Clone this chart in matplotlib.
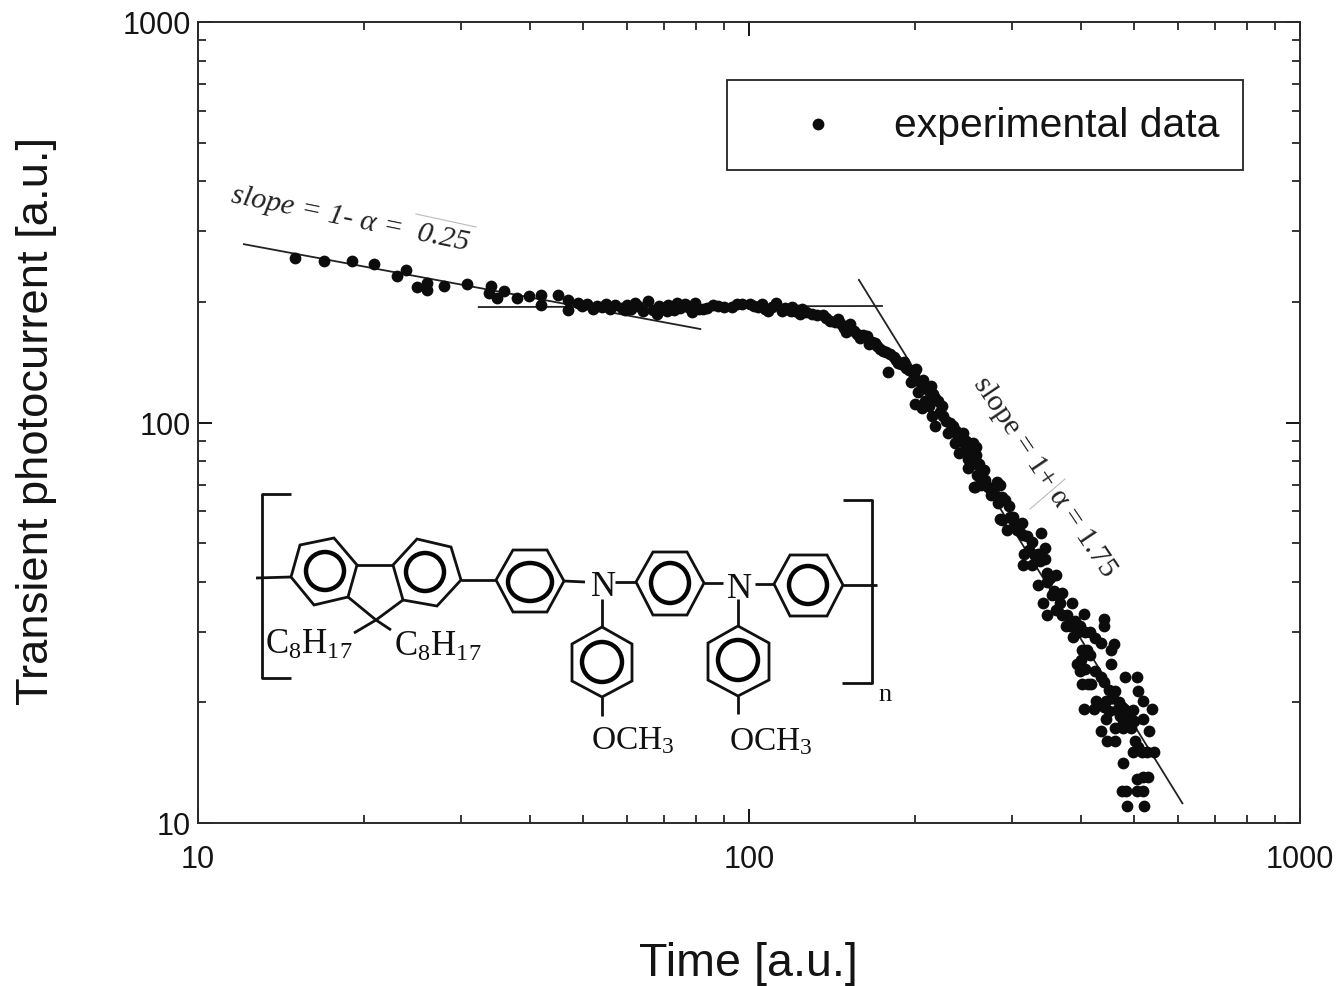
import numpy as np
import matplotlib
matplotlib.use("Agg")
import matplotlib.pyplot as plt
from matplotlib.patches import Ellipse, Polygon, Rectangle
from matplotlib.ticker import FixedLocator, LogLocator, NullFormatter, FuncFormatter

plt.rcParams['font.family'] = ['Liberation Sans', 'DejaVu Sans']
plt.rcParams['mathtext.fontset'] = 'custom'
plt.rcParams['mathtext.rm'] = 'Liberation Serif'

W, H = 1336, 987
INK = '#141414'

time_data = [
    15.0, 16.9, 19.0, 20.9, 23.0, 23.9, 25.0, 26.0, 26.0, 27.9, 30.8, 34.0, 33.7, 34.9, 35.9, 37.9,
    39.9, 41.9, 41.9, 45.0, 46.9, 46.9, 48.9, 50.8, 53.0, 55.0, 57.1, 58.8, 60.0, 62.1, 64.2, 65.6,
    68.1, 68.6, 71.0, 71.3, 74.0, 76.5, 78.8, 79.8, 82.5, 86.0, 90.0, 93.1, 95.0, 97.0, 100.5, 102.0,
    103.8, 105.6, 108.2, 110.0, 112.0, 114.8, 117.0, 119.0, 119.8, 122.0, 125.0,
    130, 136, 140, 145, 148, 150, 152.5, 155, 159, 164, 165, 171, 175, 183, 179, 186, 193, 197, 201,
    204, 203, 216, 220, 200, 206, 215, 222, 218, 232, 230, 245, 237, 255, 241, 258, 250, 250, 267,
    256, 264, 276, 282, 285, 257, 264, 285, 275, 288, 297, 288, 301, 313, 294, 306, 314, 339, 326,
    345, 316, 330, 344, 314, 326, 347, 360, 334, 348, 354, 370, 367, 341, 386, 348, 370, 405, 376,
    390, 387, 407, 436, 441, 440, 460, 453, 402, 415, 393, 407, 453, 436, 402, 418, 482, 507, 509,
    518, 427, 462, 445, 405, 422, 539, 445, 480, 497, 471, 490, 518, 462, 477, 435, 494, 531, 447,
    462, 502, 497, 516, 527, 543, 478, 505, 518, 529, 475, 484, 505, 518, 485, 520,
    49.8, 52, 54, 56, 59.5, 61, 63, 67, 69.5, 73, 75, 77.5, 81, 84, 88, 107, 116, 121, 127, 124,
    133, 138, 143, 146, 149, 153, 157, 161, 167, 169, 173, 177, 180, 185, 189, 191, 195, 199, 199,
    207, 209, 212, 214, 218, 224, 209, 212, 225, 228, 235, 238, 240, 243, 248, 252, 246, 253, 258,
    261, 254, 259, 264, 268, 272, 279, 283, 292, 298, 304, 309, 320, 322, 335, 338, 352, 357, 362,
    360, 378, 382, 395, 398, 415, 425, 410, 400, 398, 425, 440, 450, 455, 470, 475, 485, 485, 478,
    490, 500, 470, 465, 450, 440, 458, 412, 508,
]
current_data = [
    257.5, 253, 253, 249, 232, 240, 218, 223, 214, 219, 222, 219, 211, 205, 213, 205,
    207, 208, 196, 208, 202, 191, 198.8, 197.7, 195.4, 197.7, 196.5, 192.9, 196.5, 198.8, 189.7, 201,
    186.7, 195.4, 189.7, 196.5, 198.8, 197.7, 188.6, 198.8, 191.8, 196.5, 194, 194.5, 198, 198, 198, 195,
    194.5, 197.7, 189.7, 194, 198.8, 189.7, 192, 189.7, 194.5, 191, 192,
    187, 185, 179, 181, 174, 168, 176, 169, 163, 164, 157, 155, 151, 146, 134, 141, 137, 126, 136,
    126, 119, 118, 113, 111, 109, 104, 106, 98, 100, 94, 94, 89, 89, 84, 87, 81, 77, 76,
    69, 72, 67, 71, 57.4, 69, 71, 70, 66, 65, 62, 57, 58, 56, 54, 54, 52.5, 53, 50.3,
    48.5, 47, 46.7, 45.6, 44, 44, 42, 41.5, 39.4, 40, 37, 37.6, 35.5, 35.5, 35.5, 33, 33, 33.2, 31,
    32, 29.2, 30, 28.2, 32.3, 31, 28, 27, 27, 26.3, 25, 24.3, 25, 23.2, 22.2, 22.2, 23.2, 23.2, 21.3,
    20.2, 20.2, 21.3, 20.2, 19.3, 19.3, 19.3, 18.2, 19.3, 19.2, 18.5, 18.2, 18.2, 17.3, 17.3, 17, 17.3, 17, 16,
    16, 16, 15, 15, 15, 15, 14.1, 12.9, 13, 13, 12, 12, 12, 12, 11, 11,
    195, 192, 194, 192, 191, 192, 195, 191, 193, 191, 193, 194, 192, 193, 195, 192, 193, 190, 189, 187,
    186, 182, 178, 177, 172, 171, 166, 165, 159, 158, 153, 150, 148, 143, 140, 142, 135, 130, 133,
    128, 122, 120, 123, 115, 110, 113, 110, 104, 101, 98, 95, 92, 90, 90, 86, 85, 83, 83,
    79, 79, 74, 70, 72, 69, 66, 63, 64, 58, 56, 54, 52, 48, 47, 45, 41, 38, 37,
    34, 33, 31, 30, 31, 30, 29, 27, 25.5, 24, 24, 22.5, 21.5, 20.5, 20, 19.5, 19, 18, 17.8,
    17.5, 18, 19, 19.2, 19, 19.5, 20.5, 22.2, 15.5,
]

# Fitted slope lines
fit_early_t = [12.07, 81.9]
fit_early_i = [279, 171]
fit_flat_t = [32.2, 175]
fit_flat_i = [194.2, 195.4]
fit_late_t = [158, 613]
fit_late_i = [228, 11.15]

major_ticks = [10, 100, 1000]


def px_x(p):
    return p / W


def px_y(p):
    return 1 - p / H


fig = plt.figure(figsize=(W / 100, H / 100), dpi=100, facecolor='white')
ax = fig.add_axes([px_x(198), px_y(824), (1300 - 198) / W, (824 - 23) / H])
ax.set_xscale('log')
ax.set_yscale('log')
ax.set_xlim(10, 1000)
ax.set_ylim(10, 1000)

for t, i in [(fit_early_t, fit_early_i), (fit_flat_t, fit_flat_i), (fit_late_t, fit_late_i)]:
    ax.plot(t, i, color='#222222', lw=1.3, solid_capstyle='butt', zorder=2)
ax.scatter(time_data, current_data, s=72, color='#0c0c0c', linewidths=0, zorder=3)

for axis in (ax.xaxis, ax.yaxis):
    axis.set_major_locator(FixedLocator(major_ticks))
    axis.set_minor_locator(LogLocator(base=10, subs=range(2, 10)))
    axis.set_major_formatter(FuncFormatter(lambda v, _: f'{int(v)}'))
    axis.set_minor_formatter(NullFormatter())
ax.tick_params(which='major', direction='in', length=10, width=1.4, top=True, right=True,
               labelsize=22, colors=INK)
ax.tick_params(which='minor', direction='in', length=5.5, width=1.2, top=True, right=True, colors=INK)
ax.tick_params(axis='x', which='major', pad=15)
ax.tick_params(axis='y', which='major', pad=5)
for s in ax.spines.values():
    s.set_linewidth(1.4)
    s.set_color('#2a2a2a')

fig.text(px_x(748), px_y(964), 'Time [a.u.]', fontsize=33.6, color=INK, ha='center', va='center')
fig.text(px_x(37), px_y(421), 'Transient photocurrent [a.u.]', fontsize=32.7, color=INK,
         rotation=90, ha='center', va='center')

# Everything else is placed in picture pixels on a clear overlay
ov = fig.add_axes([0, 0, 1, 1], facecolor='none', zorder=5)
ov.set_xlim(0, W)
ov.set_ylim(H, 0)
ov.axis('off')

# legend box
ov.add_patch(Rectangle((727, 81), 516, 90, fill=False, ec='#222222', lw=1.3))
ov.scatter([818], [125], s=72, color='#0c0c0c', linewidths=0)
ov.text(1057, 126, 'experimental data', fontsize=29.4, color=INK, ha='center', va='center')

# slope notes
SERIF = ['Liberation Serif', 'DejaVu Serif']
ov.text(350, 219, 'slope = 1- α =  0.25', family=SERIF, style='italic', fontsize=21.6, color='#222222',
        rotation=-11.5, rotation_mode='anchor', ha='center', va='center')
ov.text(1045, 477, 'slope = 1+ α = 1.75', family=SERIF, fontsize=21.6, color='#222222',
        rotation=-56, rotation_mode='anchor', ha='center', va='center')
ov.plot([416, 476], [215, 228], color='#bbbbbb', lw=0.8)
ov.plot([1030, 1065], [510, 480], color='#bbbbbb', lw=0.8)

# polymer repeat unit
rings = [
    [(291, 578), (300, 546), (334, 539), (357, 566), (348, 598), (314, 606)],
    [(393, 566), (417, 540), (451, 548), (461, 581), (437, 607), (403, 601)],
    [(496, 581), (513, 551), (547, 551), (564, 582), (547, 613), (513, 613)],
    [(636, 583), (653, 553), (687, 553), (704, 584), (687, 616), (653, 616)],
    [(774, 585), (790, 556), (827, 556), (843, 586), (827, 617), (790, 617)],
    [(602, 628), (632, 645), (632, 682), (602, 698), (572, 682), (572, 645)],
    [(738, 627), (769, 644), (769, 681), (738, 697), (708, 681), (708, 644)],
]
ring_centers = [(325, 572, 19, 19), (425, 573, 19, 19), (530, 583, 22, 19), (670, 584, 19, 20),
                (808, 586, 19, 19), (602, 663, 20, 20), (738, 661, 20, 20)]
bonds = [
    [(256, 579), (291, 578)], [(357, 566), (393, 566)], [(348, 598), (376, 621), (403, 601)],
    [(376, 621), (354, 634)], [(376, 621), (391, 631)], [(461, 581), (496, 581)],
    [(564, 582), (585, 583)], [(615, 583), (636, 583)], [(704, 584), (723, 584)],
    [(755, 585), (774, 585)], [(843, 586), (877, 586)], [(602, 600), (602, 628)],
    [(738, 600), (738, 627)], [(602, 698), (602, 717)], [(738, 697), (738, 715)],
    [(291, 495), (262, 495), (262, 679), (291, 679)], [(843, 501), (872, 501), (872, 684), (842, 684)],
]
for r in rings:
    ov.add_patch(Polygon(r, closed=True, fill=False, ec='#111111', lw=2.0))
for cx, cy, rx, ry in ring_centers:
    ov.add_patch(Ellipse((cx, cy), 2 * rx, 2 * ry, fill=False, ec='#050505', lw=3.2))
for b in bonds:
    ov.plot(*zip(*b), color='#111111', lw=2.0, solid_capstyle='butt')

labels = [(603, 588, 'N', 25), (740, 589, 'N', 25), (309, 645, r'$\mathregular{C_8H_{17}}$', 25),
          (438, 647, r'$\mathregular{C_8H_{17}}$', 25), (633, 741, r'$\mathregular{OCH_3}$', 24),
          (771, 742, r'$\mathregular{OCH_3}$', 24), (885, 695, 'n', 19)]
for x, y, s, fs in labels:
    ov.text(x, y, s, family=SERIF, fontsize=fs, color='#111111', ha='center', va='center')

fig.savefig('out.png', dpi=100, facecolor='white')
